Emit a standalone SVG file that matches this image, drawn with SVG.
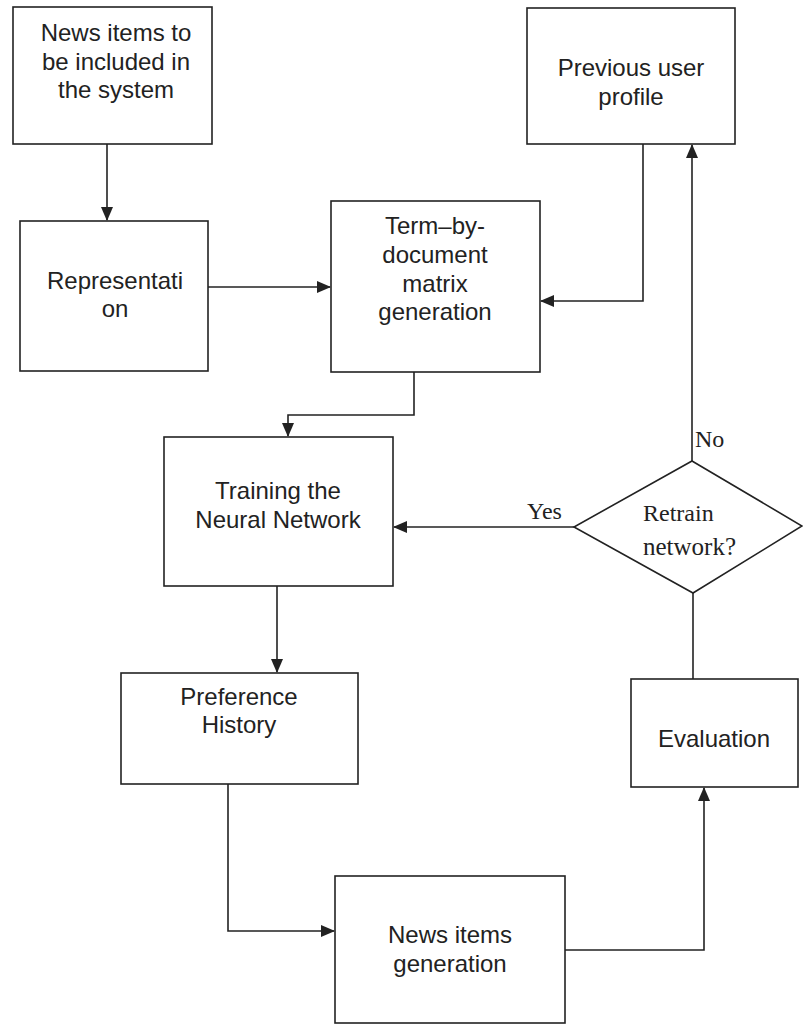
<svg xmlns="http://www.w3.org/2000/svg" width="803" height="1025" viewBox="0 0 803 1025">
<style>
.box{fill:#fff;stroke:#222;stroke-width:1.6}
.t{font-family:"Liberation Sans",Arial,sans-serif;font-size:24px;fill:#222;text-anchor:middle}
.s{font-family:"Liberation Serif","Times New Roman",serif;font-size:24px;fill:#222}
.c{fill:none;stroke:#222;stroke-width:1.6}
</style>
<defs>
<marker id="ah" markerUnits="userSpaceOnUse" markerWidth="14" markerHeight="12" refX="13" refY="6" orient="auto">
<path d="M0,0 L14,6 L0,12 Z" fill="#222"/>
</marker>
</defs>
<rect width="803" height="1025" fill="#fff"/>
<g id="connectors">
<path class="c" d="M107,144 V220" marker-end="url(#ah)"/>
<path class="c" d="M208,287 H330" marker-end="url(#ah)"/>
<path class="c" d="M643,144 V301 H541" marker-end="url(#ah)"/>
<path class="c" d="M414,372 V415 H288 V436" marker-end="url(#ah)"/>
<path class="c" d="M277,586 V672" marker-end="url(#ah)"/>
<path class="c" d="M228,784 V931 H334" marker-end="url(#ah)"/>
<path class="c" d="M565,950 H704 V788" marker-end="url(#ah)"/>
<path class="c" d="M693,679 V593"/>
<path class="c" d="M692,461 V145" marker-end="url(#ah)"/>
<path class="c" d="M574,527 H394" marker-end="url(#ah)"/>
<text class="s" x="695" y="447">No</text>
<text class="s" x="527" y="519">Yes</text>
</g>
<g id="news-input">
<rect class="box" x="13" y="7" width="199" height="137"/>
<text class="t" x="116" y="41">News items to</text>
<text class="t" x="116" y="70">be included in</text>
<text class="t" x="116" y="98">the system</text>
</g>
<g id="representation">
<rect class="box" x="20" y="221" width="188" height="150"/>
<text class="t" x="115" y="289">Representati</text>
<text class="t" x="115" y="317">on</text>
</g>
<g id="term-matrix">
<rect class="box" x="331" y="201" width="209" height="171"/>
<text class="t" x="435" y="234">Term–by-</text>
<text class="t" x="435" y="263">document</text>
<text class="t" x="435" y="292">matrix</text>
<text class="t" x="435" y="320">generation</text>
</g>
<g id="previous-profile">
<rect class="box" x="527" y="8" width="208" height="136"/>
<text class="t" x="631" y="76">Previous user</text>
<text class="t" x="631" y="105">profile</text>
</g>
<g id="training">
<rect class="box" x="164" y="437" width="229" height="149"/>
<text class="t" x="278" y="499">Training the</text>
<text class="t" x="278" y="528">Neural Network</text>
</g>
<g id="retrain-decision">
<polygon class="box" points="692,461 802,526 693,593 574,527"/>
<text class="s" x="643" y="521">Retrain</text>
<text class="s" x="643" y="555" style="font-size:25px">network?</text>
</g>
<g id="preference-history">
<rect class="box" x="121" y="673" width="237" height="111"/>
<text class="t" x="239" y="705">Preference</text>
<text class="t" x="239" y="733">History</text>
</g>
<g id="news-generation">
<rect class="box" x="335" y="876" width="230" height="147"/>
<text class="t" x="450" y="943">News items</text>
<text class="t" x="450" y="972">generation</text>
</g>
<g id="evaluation">
<rect class="box" x="631" y="679" width="167" height="108"/>
<text class="t" x="714" y="747">Evaluation</text>
</g>
</svg>
